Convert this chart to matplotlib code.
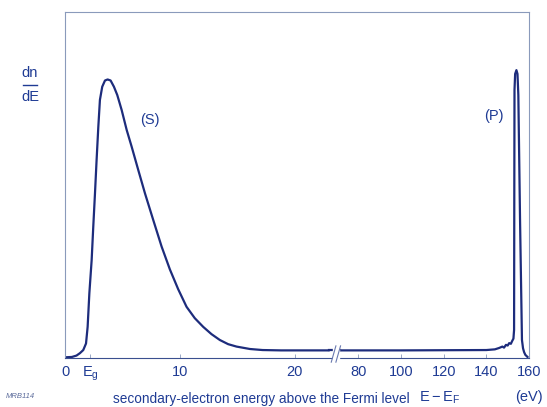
import numpy as np
import matplotlib
matplotlib.use("Agg")
import matplotlib.pyplot as plt
from matplotlib.lines import Line2D

plt.rcParams["font.family"] = ["Liberation Sans", "DejaVu Sans"]

# secondary-electron peak (S), energy in eV above E_F, dn/dE in arb. units
E_S = [0.0, 0.6, 1.00, 1.30, 1.59, 1.83, 1.97, 2.12, 2.32, 2.46, 2.61, 2.75,
       2.90, 3.04, 3.24, 3.48, 3.71, 3.97, 4.26, 4.55, 4.93, 5.37, 5.80,
       6.38, 6.96, 7.68, 8.41, 9.13, 9.85, 10.58, 11.30, 12.03, 12.75,
       13.48, 14.20, 14.93, 16.1, 17.2, 18.8, 20.4, 23.0]
N_S = [0.2, 0.3, 0.7, 1.4, 2.3, 4.2, 9.0, 18.7, 28.3, 37.9, 47.6, 57.2,
       66.8, 74.6, 78.4, 80.2, 80.5, 80.2, 78.4, 76.0, 71.7, 65.9, 61.1,
       54.3, 47.6, 39.9, 32.2, 25.6, 19.9, 14.8, 11.5, 9.0, 6.9,
       5.2, 4.0, 3.3, 2.6, 2.3, 2.2, 2.2, 2.2]

# flat tail beyond the axis break, loss region and elastic peak (P)
E_P = [71.5, 100.0, 140.0, 144.0, 146.0, 147.5, 148.3, 149.2, 150.0, 150.7,
       151.5, 152.1, 152.7, 153.0, 153.1, 153.2, 153.5, 154.1, 154.6, 155.0,
       155.8, 156.7, 157.2, 157.7, 158.3, 159.3]
N_P = [2.2, 2.2, 2.3, 2.5, 2.9, 3.3, 3.0, 3.8, 3.6, 4.3,
       4.1, 4.9, 5.6, 8.1, 45.7, 77.5, 82.1, 83.2, 82.1, 76.0,
       39.9, 5.2, 2.8, 1.7, 0.9, 0.3]

TICKS = [0, 2.2, 10, 20, 80, 100, 120, 140, 160]
TICK_LABELS = ["0", r"$\mathregular{E_g}$", "10", "20", "80", "100", "120", "140", "160"]

# broken energy axis: 0..23.5 eV linear, then 69 eV onwards compressed
A, B, K = 23.5, 69.0, 0.1856


def fwd(e):
    e = np.asarray(e, dtype=float)
    return np.where(e <= A, e, np.where(e >= B, A + (e - B) * K, A))


def inv(u):
    u = np.asarray(u, dtype=float)
    return np.where(u <= A, u, B + (u - A) / K)


NAVY = "#1d2c7c"
TXT = "#1f3b94"
FRAME = "#8a9abb"

fig = plt.figure(figsize=(5.47, 4.07), dpi=100)
ax = fig.add_axes([65 / 547, 49 / 407, (529 - 65) / 547, (358 - 12) / 407])
ax.set_xscale("function", functions=(fwd, inv))
ax.set_xlim(0, 160)
ax.set_ylim(0, 100)

ax.plot(E_S, N_S, color=NAVY, lw=1.6, solid_capstyle="round", solid_joinstyle="round")
ax.plot(E_P, N_P, color=NAVY, lw=1.6, solid_joinstyle="round")
# join the two pieces across the break
ax.plot([E_S[-1], E_P[0]], [N_S[-1], N_P[0]], color=NAVY, lw=1.6)

for s in ax.spines.values():
    s.set_color(FRAME)
    s.set_linewidth(0.8)
ax.spines["bottom"].set_color("#3a4f8f")

ax.set_xticks(TICKS)
ax.set_xticklabels(TICK_LABELS)
ax.tick_params(axis="x", direction="in", length=3, width=0.6, color=FRAME,
               labelsize=10.5, labelcolor=TXT, pad=5)
ax.set_yticks([])

# break marks on the axis
bx = fwd(A) / fwd(160)
ax.add_patch(plt.Rectangle((bx - 0.004, -0.01), 0.012, 0.04, transform=ax.transAxes,
                           color="white", zorder=3, clip_on=False))
for dx in (-0.004, 0.006):
    ax.plot([bx + dx - 0.004, bx + dx + 0.006], [-0.012, 0.035], transform=ax.transAxes,
            color="#6a7ab0", lw=0.8, zorder=4, clip_on=False)

ax.text(7.4, 68.8, "(S)", color=TXT, fontsize=10.5, ha="center", va="center")
ax.text(143.3, 70.0, "(P)", color=TXT, fontsize=10.5, ha="center", va="center")

# dn/dE as a stacked fraction
fig.text(30 / 547, 1 - 73 / 407, "dn", color=TXT, fontsize=10.5, ha="center", va="center")
fig.text(30 / 547, 1 - 97 / 407, "dE", color=TXT, fontsize=10.5, ha="center", va="center")
fig.add_artist(Line2D([23 / 547, 37 / 547], [1 - 85 / 407] * 2, color=TXT, lw=1.0))

fig.text(113 / 547, 1 - 399 / 407, "secondary-electron energy above the Fermi level",
         color=TXT, fontsize=9.8, ha="left", va="center")
fig.text(419 / 547, 1 - 398 / 407, r"$\mathregular{E-E_F}$", color=TXT, fontsize=10.5,
         ha="left", va="center")
fig.text(515 / 547, 1 - 397 / 407, "(eV)", color=TXT, fontsize=10.5, ha="left", va="center")
fig.text(6 / 547, 1 - 396 / 407, "MRB114", color="#5a6a9a", fontsize=5.5, style="italic",
         ha="left", va="center")

fig.savefig("out.png", dpi=100, facecolor="white")
